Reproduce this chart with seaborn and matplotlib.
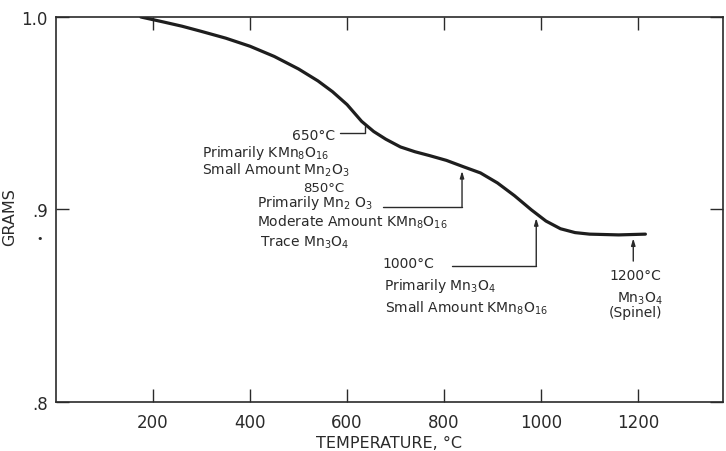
import numpy as np
import pandas as pd
import matplotlib
matplotlib.use("Agg")
import matplotlib.pyplot as plt
import seaborn as sns

# weight loss curve
temps = [175, 220, 260, 300, 350, 400, 450, 500, 540, 570, 600, 630, 655,
         680, 710, 740, 770, 805, 840, 875, 910, 945, 980, 1010, 1040,
         1070, 1100, 1160, 1215]
grams = [1.000, 0.9975, 0.9952, 0.9925, 0.9890, 0.9848, 0.9795, 0.9730,
         0.9668, 0.9612, 0.9545, 0.9458, 0.9405, 0.9365, 0.9325, 0.9300,
         0.9280, 0.9255, 0.9222, 0.9190, 0.9138, 0.9072, 0.8998, 0.8940,
         0.8900, 0.8880, 0.8872, 0.8868, 0.8872]

x_ticks = [200, 400, 600, 800, 1000, 1200]
y_ticks = [0.8, 0.9, 1.0]
y_tick_labels = [".8", ".9", "1.0"]

df = pd.DataFrame({"Temperature": temps, "Grams": grams})

sns.set_style("ticks")
plt.rcParams["font.family"] = ["DejaVu Sans"]
plt.rcParams["mathtext.default"] = "regular"

fig = plt.figure(figsize=(7.26, 4.52), dpi=100)
ax = fig.add_axes([0.0771, 0.1084, 0.9188, 0.8518])

ink = "#2a2a2a"
sns.lineplot(data=df, x="Temperature", y="Grams", ax=ax, color="#1e1e1e",
             linewidth=2.3)

ax.set_xlim(0, 1375)
ax.set_ylim(0.8, 1.0)
ax.set_xticks(x_ticks)
ax.set_xticklabels([str(t) for t in x_ticks], fontsize=12, color=ink)
ax.set_yticks(y_ticks)
ax.set_yticklabels(y_tick_labels, fontsize=12, color=ink)
ax.tick_params(axis="both", direction="in", length=9.5, width=1.0,
               color=ink, top=True, right=True)
ax.tick_params(axis="x", pad=8)
ax.tick_params(axis="y", pad=6)
for s in ax.spines.values():
    s.set_color(ink)
    s.set_linewidth(1.2)

ax.set_xlabel("TEMPERATURE, °C", fontsize=11.5, color=ink, labelpad=3)
ax.set_ylabel("GRAMS", fontsize=11.5, color=ink)
ax.yaxis.set_label_coords(-0.058, 0.483)
fig.text(40 / 726, 1 - 239 / 452, "•", fontsize=8, color=ink,
         ha="center", va="center")

# annotations: (text, x, baseline y, ha, size)
notes = [
    ("650°C", 575, 0.9366, "right", 10),
    (r"Primarily KMn$_8$O$_{16}$", 301, 0.9278, "left", 10),
    (r"Small Amount Mn$_2$O$_3$", 301, 0.9184, "left", 10),
    ("850°C", 552, 0.9096, "center", 9.5),
    (r"Primarily Mn$_2$ O$_3$", 414, 0.9018, "left", 10),
    (r"Moderate Amount KMn$_8$O$_{16}$", 414, 0.8914, "left", 10),
    (r"Trace Mn$_3$O$_4$", 420, 0.8810, "left", 10),
    ("1000°C", 672, 0.8701, "left", 10),
    (r"Primarily Mn$_3$O$_4$", 676, 0.8587, "left", 10),
    (r"Small Amount KMn$_8$O$_{16}$", 678, 0.8468, "left", 10),
    ("1200°C", 1194, 0.8639, "center", 10),
    (r"Mn$_3$O$_4$", 1204, 0.8520, "center", 10),
    ("(Spinel)", 1194, 0.8447, "center", 10),
]
for txt, tx, ty, ha, fs in notes:
    ax.text(tx, ty, txt, fontsize=fs, color=ink, ha=ha, va="baseline")

# leader lines
lw = 1.0
head = "-|>,head_length=0.4,head_width=0.12"
ax.plot([585, 637, 637], [0.9397, 0.9397, 0.9432], color=ink, lw=lw)
ax.plot([674, 837], [0.9013, 0.9013], color=ink, lw=lw)
ax.annotate("", xy=(837, 0.9200), xytext=(837, 0.9013),
            arrowprops=dict(arrowstyle=head, color=ink, lw=lw,
                            shrinkA=0, shrinkB=0))
ax.plot([816, 990], [0.8706, 0.8706], color=ink, lw=lw)
ax.annotate("", xy=(990, 0.8955), xytext=(990, 0.8706),
            arrowprops=dict(arrowstyle=head, color=ink, lw=lw,
                            shrinkA=0, shrinkB=0))
ax.annotate("", xy=(1190, 0.8850), xytext=(1190, 0.8732),
            arrowprops=dict(arrowstyle=head, color=ink, lw=lw,
                            shrinkA=0, shrinkB=0))

fig.savefig("out.png", dpi=100)
